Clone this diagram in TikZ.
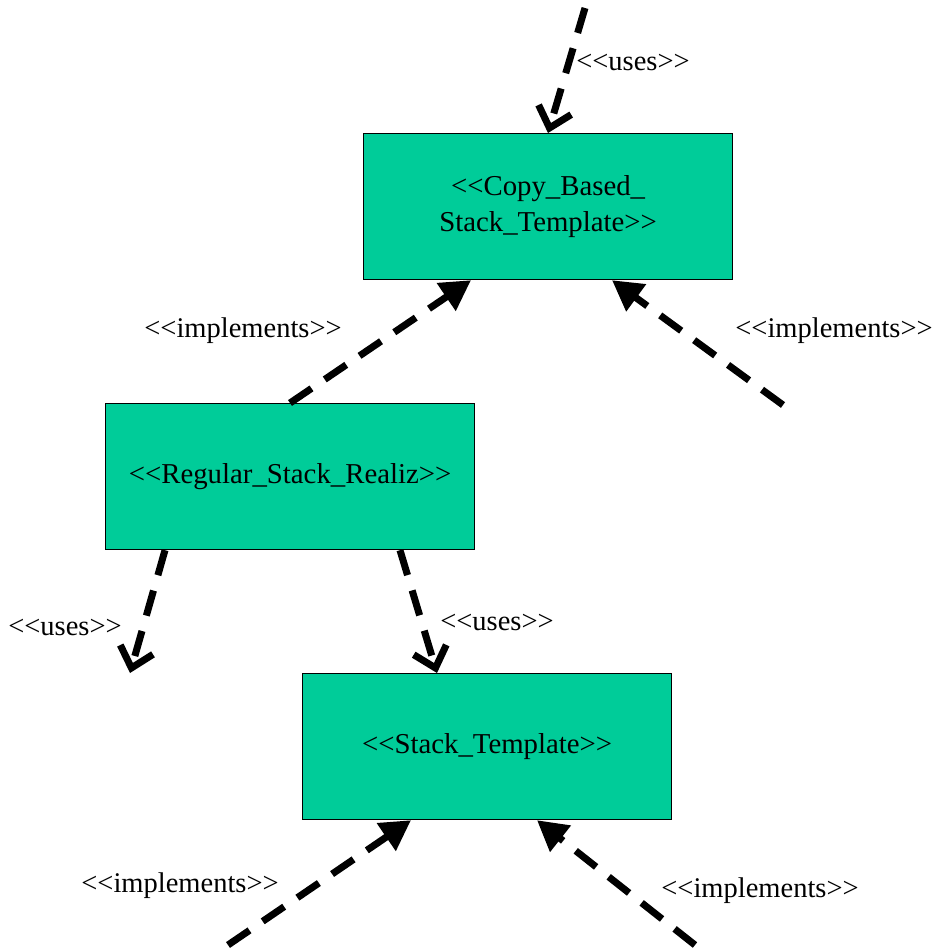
\documentclass[tikz,border=0pt]{standalone}
\usepackage{fontspec}
\setmainfont{Liberation Serif}
\usetikzlibrary{arrows.meta}
\definecolor{boxgreen}{HTML}{00CC99}
% plain angle brackets, kept apart so they are not joined into guillemets
\newcommand\lgl{<\kern0pt<}
\newcommand\rgl{>\kern0pt>}
\tikzset{
  classbox/.style={draw=black, line width=1.2pt, fill=boxgreen, rectangle,
    minimum width=369pt, minimum height=146pt, inner sep=0pt, anchor=north west,
    align=center, font=\fontsize{28.8}{36}\selectfont},
  lbl/.style={font=\fontsize{28.5}{30}\selectfont, inner sep=0pt},
  dep/.style={line width=7pt, dash pattern=on 26pt off 16pt},
  usesline/.style={dep, -{Straight Barb[length=19pt,width=34pt]}},
  implline/.style={dep, -{Triangle[length=30pt,width=32pt]}}
}
\begin{document}
\begin{tikzpicture}[x=1pt,y=-1pt]
  \useasboundingbox (0,0) rectangle (937,948);

  % class boxes
  \node[classbox] (cbst) at (363,133) {\lgl Copy\_Based\_\\Stack\_Template\rgl};
  \node[classbox] (rsr)  at (105,403) {\lgl Regular\_Stack\_Realiz\rgl};
  \node[classbox] (st)   at (302,673) {\lgl Stack\_Template\rgl};

  % free ends of the connectors
  \coordinate (topfree) at (585,8);
  \coordinate (rightfree) at (783,405);
  \coordinate (leftfree) at (130,673);
  \coordinate (blfree) at (228,945);
  \coordinate (brfree) at (695,945);

  % <<uses>> dependencies
  \draw[usesline] (topfree) -- ([xshift=185pt]cbst.north west);
  \draw[usesline] ([xshift=60pt]rsr.south west) -- (leftfree);
  \draw[usesline] ([xshift=295pt]rsr.south west) -- ([xshift=135pt]st.north west);

  % <<implements>> dependencies
  \draw[implline] ([xshift=185pt]rsr.north west) -- ([xshift=108pt]cbst.south west);
  \draw[implline] (rightfree) -- ([xshift=249pt]cbst.south west);
  \draw[implline] (blfree) -- ([xshift=109pt]st.south west);
  \draw[implline] (brfree) -- ([xshift=235pt]st.south west);

  % labels
  \node[lbl] (l1) at (633,62) {\lgl uses\rgl};
  \node[lbl] (l2) at (243,331) {\lgl implements\rgl};
  \node[lbl] (l3) at (834,331) {\lgl implements\rgl};
  \node[lbl] (l4) at (65,627) {\lgl uses\rgl};
  \node[lbl] (l5) at (497,622) {\lgl uses\rgl};
  \node[lbl] (l6) at (180,886) {\lgl implements\rgl};
  \node[lbl] (l7) at (760,891) {\lgl implements\rgl};
\end{tikzpicture}
\end{document}
